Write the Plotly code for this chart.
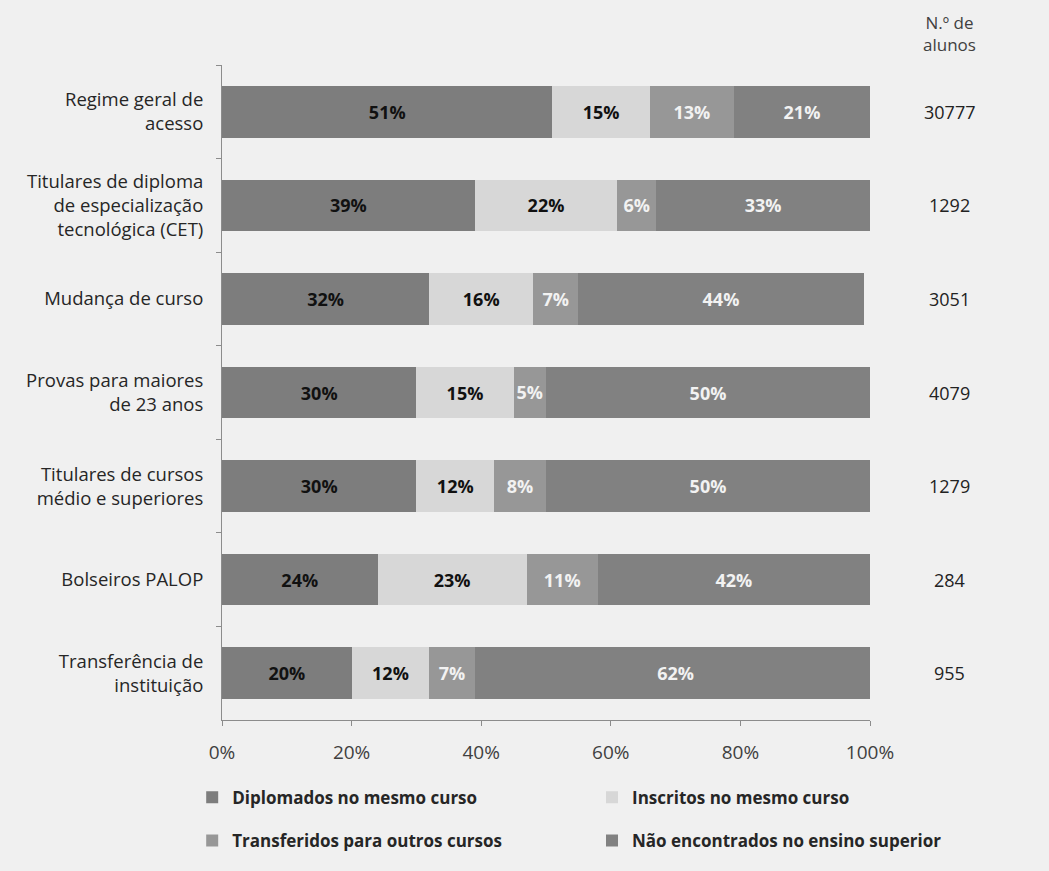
import plotly.graph_objects as go

# Access regimes (top to bottom) and student counts
categories = [
    "Regime geral de<br>acesso",
    "Titulares de diploma<br>de especialização<br>tecnológica (CET)",
    "Mudança de curso",
    "Provas para maiores<br>de 23 anos",
    "Titulares de cursos<br>médio e superiores",
    "Bolseiros PALOP",
    "Transferência de<br>instituição",
]
n_alunos = [30777, 1292, 3051, 4079, 1279, 284, 955]

# Outcome shares (%) per access regime
diplomados = [51, 39, 32, 30, 30, 24, 20]
inscritos = [15, 22, 16, 15, 12, 23, 12]
transferidos = [13, 6, 7, 5, 8, 11, 7]
nao_encontrados = [21, 33, 44, 50, 50, 42, 62]

series = [
    ("Diplomados no mesmo curso", diplomados, "#7d7d7d", "#111111", "legend"),
    ("Inscritos no mesmo curso", inscritos, "#d7d7d7", "#111111", "legend2"),
    ("Transferidos para outros cursos", transferidos, "#979797", "#f2f2f2", "legend3"),
    ("Não encontrados no ensino superior", nao_encontrados, "#818181", "#f2f2f2", "legend4"),
]

FONT = "'Open Sans', 'Noto Sans', sans-serif"
BG = "#f0f0f0"

fig = go.Figure()
for name, vals, color, tcolor, leg in series:
    fig.add_trace(go.Bar(
        y=categories,
        x=vals,
        name=name,
        orientation="h",
        marker=dict(color=color, line=dict(width=0)),
        text=[f"{v}%" for v in vals],
        textposition="inside",
        insidetextanchor="middle",
        textangle=0,
        textfont=dict(family=FONT, size=18, color=tcolor, weight="bold"),
        legend=leg,
        hoverinfo="skip",
    ))

# Student counts on the right of each bar
for cat, n in zip(categories, n_alunos):
    fig.add_annotation(
        x=1.122, xref="paper", y=cat, yref="y",
        text=str(n), showarrow=False,
        font=dict(family=FONT, size=18, color="#222222"),
        xanchor="center", yanchor="middle",
    )

fig.add_annotation(
    x=1.122, xref="paper", y=1.0, yref="paper", yshift=32,
    text="N.º de<br>alunos", showarrow=False,
    font=dict(family=FONT, size=17, color="#404040"),
    xanchor="center", yanchor="middle",
)

legend_common = dict(
    orientation="h",
    xanchor="left",
    yanchor="middle",
    bgcolor="rgba(0,0,0,0)",
    font=dict(family=FONT, size=17, color="#262626", weight="bold"),
    itemclick=False,
    itemdoubleclick=False,
)

fig.update_layout(
    width=1049,
    height=871,
    margin=dict(l=222, r=179, t=65, b=148),
    paper_bgcolor=BG,
    plot_bgcolor=BG,
    barmode="stack",
    bargap=0.45,
    showlegend=True,
    legend=dict(**legend_common, x=-0.046, y=-0.1185),
    legend2=dict(**legend_common, x=0.571, y=-0.1185),
    legend3=dict(**legend_common, x=-0.046, y=-0.1845),
    legend4=dict(**legend_common, x=0.571, y=-0.1845),
    xaxis=dict(
        range=[0, 100],
        tickvals=[0, 20, 40, 60, 80, 100],
        ticktext=["0%", "20%", "40%", "60%", "80%", "100%"],
        ticks="outside",
        ticklen=5,
        tickcolor="#8c8c8c",
        showline=True,
        linecolor="#8c8c8c",
        linewidth=1,
        showgrid=False,
        zeroline=False,
        tickfont=dict(family=FONT, size=19, color="#404040"),
        ticklabelstandoff=10,
    ),
    yaxis=dict(
        autorange="reversed",
        ticks="outside",
        tickson="boundaries",
        ticklen=5,
        tickcolor="#8c8c8c",
        showline=True,
        linecolor="#8c8c8c",
        linewidth=1,
        showgrid=False,
        zeroline=False,
        tickfont=dict(family=FONT, size=18.5, color="#262626"),
        ticklabelstandoff=14,
    ),
)

fig.write_html("out.html")
